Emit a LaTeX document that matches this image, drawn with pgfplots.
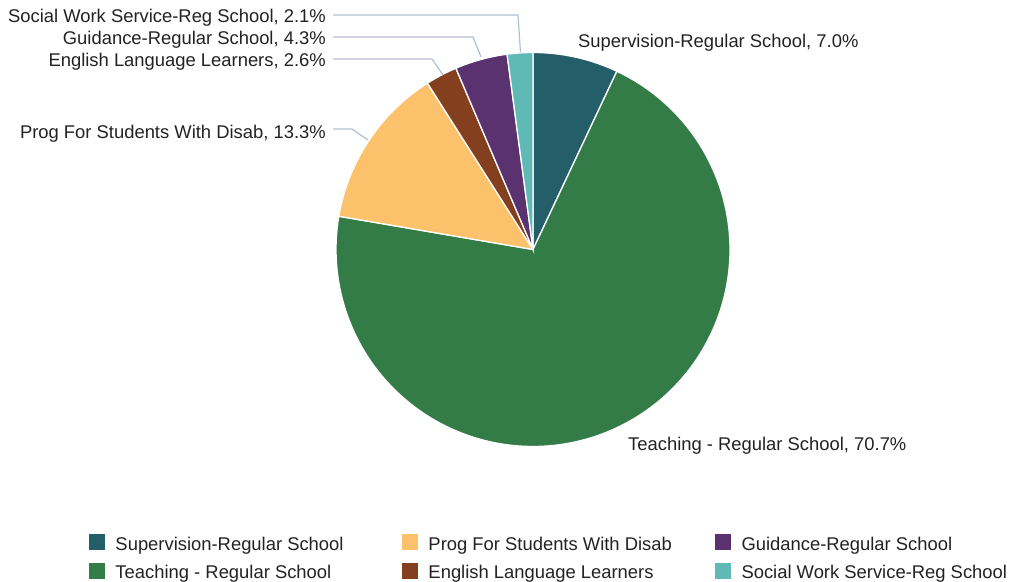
\documentclass[border=0pt]{standalone}
\usepackage{pgfplots}
\pgfplotsset{compat=1.18}
\usepackage{fontspec}
\setmainfont{Liberation Sans}
\definecolor{cSup}{HTML}{245E68}
\definecolor{cTea}{HTML}{337C48}
\definecolor{cPro}{HTML}{FBC26B}
\definecolor{cEll}{HTML}{843F1F}
\definecolor{cGui}{HTML}{5A3270}
\definecolor{cSoc}{HTML}{5FBAB6}
\definecolor{txt}{HTML}{222222}
\definecolor{lead}{HTML}{B3BFD1}
\newcommand{\lfont}{\fontsize{18.4bp}{22bp}\selectfont}
\newcommand{\lent}[1]{\makebox[297bp][l]{\hspace*{10.5bp}\rule[-4.8bp]{0pt}{22.8bp}#1}}
\begin{document}
\begin{tikzpicture}
\path[use as bounding box] (0,0) rectangle (1011bp,582bp);
% slice percentages
\def\pA{7.0}\def\pB{70.7}\def\pC{13.3}\def\pD{2.6}\def\pE{4.3}\def\pF{2.1}
\pgfmathsetmacro\aA{90-3.6*\pA}
\pgfmathsetmacro\aB{\aA-3.6*\pB}
\pgfmathsetmacro\aC{\aB-3.6*\pC}
\pgfmathsetmacro\aD{\aC-3.6*\pD}
\pgfmathsetmacro\aE{\aD-3.6*\pE}
\pgfmathsetmacro\aF{\aE-3.6*\pF}
\def\cx{533}\def\cy{332.5}\def\rr{197}
\begin{axis}[
  at={(0,0)}, anchor=south west,
  width=1011bp, height=582bp, scale only axis,
  xmin=0, xmax=1011, ymin=0, ymax=582,
  hide axis, clip=false,
  legend columns=3,
  legend style={at={(axis cs:89,49.9)}, anchor=north west, draw=none, fill=none,
    inner sep=0pt, outer sep=0pt, column sep=0pt, row sep=9.2bp,
    font=\lfont, text=txt, nodes={inner sep=0pt}},
  legend cell align=left,
  sq/.style={legend image code/.code={\fill[##1, draw=none] (0bp,-8bp) rectangle (16bp,8bp);}},
  slice/.style={draw=white, line width=1.3bp, forget plot, variable=x},
]
\addplot[slice, fill=cSup, domain=\aA:90, samples=30] ({\cx+\rr*cos(x)},{\cy+\rr*sin(x)}) -- (axis cs:\cx,\cy) -- cycle;
\addplot[slice, fill=cTea, domain=\aB:\aA, samples=150] ({\cx+\rr*cos(x)},{\cy+\rr*sin(x)}) -- (axis cs:\cx,\cy) -- cycle;
\addplot[slice, fill=cPro, domain=\aC:\aB, samples=40] ({\cx+\rr*cos(x)},{\cy+\rr*sin(x)}) -- (axis cs:\cx,\cy) -- cycle;
\addplot[slice, fill=cEll, domain=\aD:\aC, samples=15] ({\cx+\rr*cos(x)},{\cy+\rr*sin(x)}) -- (axis cs:\cx,\cy) -- cycle;
\addplot[slice, fill=cGui, domain=\aE:\aD, samples=20] ({\cx+\rr*cos(x)},{\cy+\rr*sin(x)}) -- (axis cs:\cx,\cy) -- cycle;
\addplot[slice, fill=cSoc, domain=\aF:\aE, samples=15] ({\cx+\rr*cos(x)},{\cy+\rr*sin(x)}) -- (axis cs:\cx,\cy) -- cycle;
% leader lines
\addplot[lead, line width=1.2bp, forget plot, mark=none] coordinates {(333,567) (518,567) (520.5,529.5)};
\addplot[lead, line width=1.2bp, forget plot, mark=none] coordinates {(333,545) (473,545) (481,525)};
\addplot[lead, line width=1.2bp, forget plot, mark=none] coordinates {(333,523) (432,523) (443,507)};
\addplot[lead, line width=1.2bp, forget plot, mark=none] coordinates {(333,453) (352,453) (368,442)};
% labels
\node[anchor=base east, inner sep=0, font=\lfont, text=txt] at (axis cs:326,559) {Social Work Service-Reg School, 2.1\%};
\node[anchor=base east, inner sep=0, font=\lfont, text=txt] at (axis cs:326,537) {Guidance-Regular School, 4.3\%};
\node[anchor=base east, inner sep=0, font=\lfont, text=txt] at (axis cs:326,515) {English Language Learners, 2.6\%};
\node[anchor=base east, inner sep=0, font=\lfont, text=txt] at (axis cs:326,443.7) {Prog For Students With Disab, 13.3\%};
\node[anchor=base west, inner sep=0, font=\lfont, text=txt] at (axis cs:578,534.7) {Supervision-Regular School, 7.0\%};
\node[anchor=base west, inner sep=0, font=\lfont, text=txt] at (axis cs:628,131.3) {Teaching - Regular School, 70.7\%};
% legend
\addlegendimage{sq, fill=cSup}\addlegendentry{\lent{Supervision-Regular School}}
\addlegendimage{sq, fill=cPro}\addlegendentry{\lent{Prog For Students With Disab}}
\addlegendimage{sq, fill=cGui}\addlegendentry{\lent{Guidance-Regular School}}
\addlegendimage{sq, fill=cTea}\addlegendentry{\lent{Teaching - Regular School}}
\addlegendimage{sq, fill=cEll}\addlegendentry{\lent{English Language Learners}}
\addlegendimage{sq, fill=cSoc}\addlegendentry{\makebox[270bp][l]{\hspace*{10.5bp}\rule[-4.8bp]{0pt}{22.8bp}Social Work Service-Reg School}}
\end{axis}
\end{tikzpicture}
\end{document}
